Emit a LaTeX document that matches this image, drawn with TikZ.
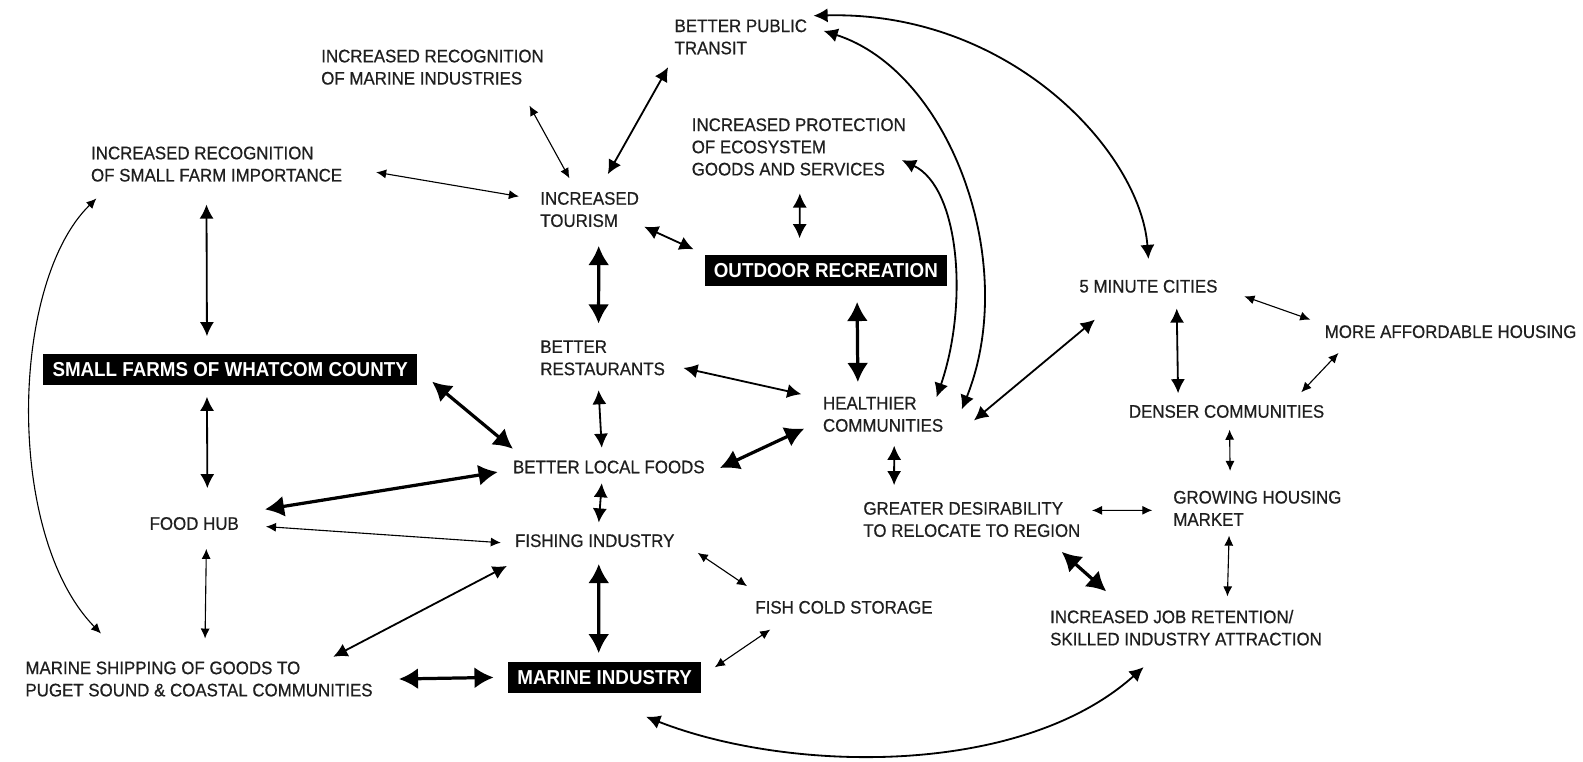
\documentclass[tikz,border=0pt]{standalone}
\usepackage{fontspec}
\setmainfont{Liberation Sans}[FakeStretch=0.93,UprightFeatures={FakeBold=0.6}]
\usetikzlibrary{arrows.meta,calc}

\begin{document}
\begin{tikzpicture}[x=1pt,y=-1pt,
  t/.style={anchor=north west,align=left,inner sep=0pt,font=\fontsize{18}{22}\selectfont,text=black!88},
  bx/.style={fill=black,text=white,inner xsep=9pt,inner ysep=0pt,minimum height=31pt,font=\fontsize{20}{24}\selectfont\bfseries},
  sm/.style={{Latex[length=10pt,width=9pt]}-{Latex[length=10pt,width=9pt]},line width=1.1pt},
  md/.style={{Latex[length=14pt,width=14pt]}-{Latex[length=14pt,width=14pt]},line width=1.8pt},
  lg/.style={{Latex[length=19pt,width=21pt]}-{Latex[length=19pt,width=21pt]},line width=3.2pt}
]
\useasboundingbox (0,0) rectangle (1568,754);
\node[t] (pub) at (668,19) {BETTER PUBLIC\\TRANSIT};
\node[t] (recm) at (318,49) {INCREASED RECOGNITION\\OF MARINE INDUSTRIES};
\node[t] (prot) at (685,117) {INCREASED PROTECTION\\OF ECOSYSTEM\\GOODS AND SERVICES};
\node[t] (recf) at (90,145) {INCREASED RECOGNITION\\OF SMALL FARM IMPORTANCE};
\node[t] (tour) at (535,190) {INCREASED\\TOURISM};
\node[bx] (outdoor) at (818,268) {OUTDOOR RECREATION};
\node[t] (five) at (1069,277) {5 MINUTE CITIES};
\node[t] (afford) at (1312,322) {MORE AFFORDABLE HOUSING};
\node[bx] (farms) at (228,366) {SMALL FARMS OF WHATCOM COUNTY};
\node[t] (rest) at (535,337) {BETTER\\RESTAURANTS};
\node[t] (healthy) at (815,393) {HEALTHIER\\COMMUNITIES};
\node[t] (denser) at (1118,401) {DENSER COMMUNITIES};
\node[t] (foods) at (508,456) {BETTER LOCAL FOODS};
\node[t] (hub) at (148,512) {FOOD HUB};
\node[t] (desire) at (855,497) {GREATER DESIRABILITY\\TO RELOCATE TO REGION};
\node[t] (growing) at (1162,486) {GROWING HOUSING\\MARKET};
\node[t] (fishing) at (510,529) {FISHING INDUSTRY};
\node[t] (cold) at (748,595) {FISH COLD STORAGE};
\node[t] (job) at (1040,604) {INCREASED JOB RETENTION/\\SKILLED INDUSTRY ATTRACTION};
\node[t] (ship) at (25,655) {MARINE SHIPPING OF GOODS TO\\PUGET SOUND \& COASTAL COMMUNITIES};
\node[bx] (marine) at (599,671) {MARINE INDUSTRY};
% upper part
\draw[sm] ($(recm)+(96,38)$) -- ($(tour)+(-20,-31)$);
\draw[md] ($(pub)+(-72,30)$) -- ($(tour)+(18,-35)$);
\draw[sm] ($(recf)+(158,8)$) -- ($(tour)+(-70,-13)$);
\draw[md] ($(tour)+(54,17)$) -- ($(outdoor)+(-131,-21)$);
\draw[md] ($(prot)+(1,46)$) -- ($(outdoor)+(-26,-32)$);
\draw[md] ($(pub)+(72,-21)$) .. controls +(195,-5) and +(-8,-106) .. ($(five)+(0,-27)$);
\draw[md] ($(pub)+(82,-6)$) .. controls +(125,40) and +(58,-145) .. ($(healthy)+(78,-5)$);
\draw[md] ($(prot)+(102,13)$) .. controls +(57,27) and +(32,-93) .. ($(healthy)+(53,-17)$);
\draw[sm] ($(recf)+(-119,34)$) .. controls +(-86,84) and +(-95,-97) .. ($(ship)+(-97,-45)$);
% middle
\draw[lg] ($(tour)+(9,36)$) -- ($(rest)+(-4,-34)$);
\draw[lg] ($(outdoor)+(31,31)$) -- ($(healthy)+(-25,-32)$);
\draw[md] ($(recf)+(-10,40)$) -- ($(farms)+(-23,-33)$);
\draw[md] ($(farms)+(-23,27)$) -- ($(hub)+(13,-35)$);
\draw[lg] ($(farms)+(200,12)$) -- ($(foods)+(-95,-18)$);
\draw[md] ($(rest)+(80,10)$) -- ($(healthy)+(-81,-20)$);
\draw[md] ($(rest)+(-4,32)$) -- ($(foods)+(-7,-19)$);
\draw[lg] ($(foods)+(110,1)$) -- ($(healthy)+(-78,14)$);
\draw[lg] ($(foods)+(-110,5)$) -- ($(hub)+(70,-14)$);
\draw[md] ($(foods)+(-7,16)$) -- ($(fishing)+(4,-18)$);
% lower left
\draw[sm] ($(hub)+(71,3)$) -- ($(fishing)+(-93,2)$);
\draw[sm] ($(hub)+(12,25)$) -- ($(ship)+(6,-40)$);
\draw[md] ($(fishing)+(-87,25)$) -- ($(ship)+(133,-22)$);
\draw[lg] ($(fishing)+(4,23)$) -- ($(marine)+(-6,-24)$);
\draw[sm] ($(fishing)+(102,12)$) -- ($(cold)+(-96,-21)$);
\draw[sm] ($(cold)+(-73,22)$) -- ($(marine)+(109,-10)$);
\draw[lg] ($(ship)+(198,0)$) -- ($(marine)+(-110,0)$);
\draw[md] ($(marine)+(41,39)$) .. controls +(140,55) and +(-123,110) .. ($(job)+(-42,39)$);
% right
\draw[md] ($(healthy)+(11,31)$) -- ($(desire)+(-77,-34)$);
\draw[md] ($(healthy)+(90,6)$) -- ($(five)+(-53,33)$);
\draw[sm] ($(five)+(95,10)$) -- ($(afford)+(-139,-12)$);
\draw[md] ($(five)+(28,22)$) -- ($(denser)+(-48,-18)$);
\draw[sm] ($(afford)+(-111,21)$) -- ($(denser)+(74,-19)$);
\draw[sm] ($(denser)+(3,18)$) -- ($(growing)+(-27,-37)$);
\draw[sm] ($(desire)+(119,-9)$) -- ($(growing)+(-104,2)$);
\draw[sm] ($(growing)+(-28,27)$) -- ($(job)+(41,-31)$);
\draw[lg] ($(desire)+(89,32)$) -- ($(job)+(-79,-36)$);
\end{tikzpicture}
\end{document}
